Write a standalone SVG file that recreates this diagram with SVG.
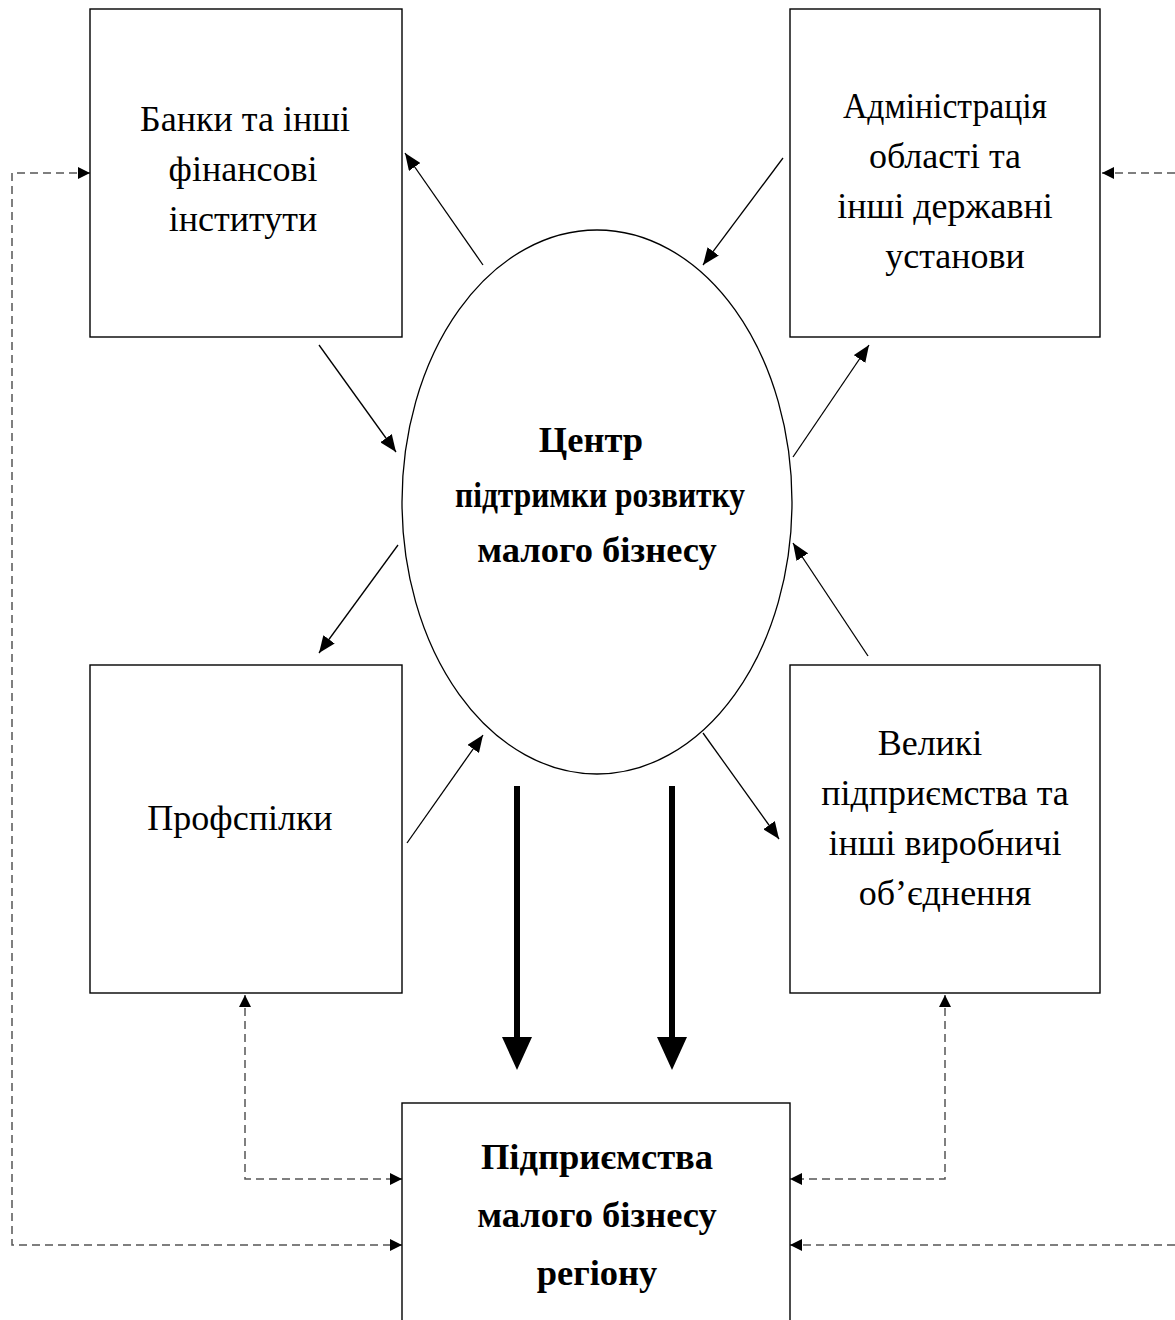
<svg xmlns="http://www.w3.org/2000/svg" width="1175" height="1320" viewBox="0 0 1175 1320">
<style>
.box{fill:#fff;stroke:#000;stroke-width:1.4}
.t{font-family:"Liberation Serif","Times New Roman",serif;font-size:36px;fill:#000;text-anchor:middle}
.b{font-weight:bold;font-size:36.5px}
.thin{stroke:#000;stroke-width:1.3;fill:none;marker-end:url(#ah)}
.thick{stroke:#000;stroke-width:6;fill:none;marker-end:url(#big)}
.dash{stroke:#555;stroke-width:1.5;fill:none;stroke-dasharray:8 5;marker-end:url(#dh)}
.dash2{marker-start:url(#dh)}
</style>
<defs>
<marker id="ah" markerUnits="userSpaceOnUse" markerWidth="18" markerHeight="14" refX="17" refY="7" orient="auto"><path d="M0,0 L17,7 L0,14 z" fill="#000"/></marker>
<marker id="big" markerUnits="userSpaceOnUse" markerWidth="34" markerHeight="30" refX="0" refY="15" orient="auto"><path d="M0,0 L33,15 L0,30 z" fill="#000"/></marker>
<marker id="dh" markerUnits="userSpaceOnUse" markerWidth="13" markerHeight="12" refX="12" refY="6" orient="auto-start-reverse"><path d="M0,0 L12,6 L0,12 z" fill="#000"/></marker>
</defs>
<rect width="1175" height="1320" fill="#fff"/>
<g id="connectors">
<line class="thin" x1="483" y1="265" x2="405" y2="153"/>
<line class="thin" x1="783" y1="158" x2="703" y2="265"/>
<line class="thin" x1="319" y1="345" x2="396" y2="452"/>
<line class="thin" x1="793" y1="457" x2="869" y2="345"/>
<line class="thin" x1="398" y1="545" x2="319" y2="653"/>
<line class="thin" x1="407" y1="843" x2="483" y2="735"/>
<line class="thin" x1="868" y1="656" x2="793" y2="543"/>
<line class="thin" x1="703" y1="733" x2="779" y2="839"/>
<line class="thick" x1="517" y1="786" x2="517" y2="1037"/>
<line class="thick" x1="672" y1="786" x2="672" y2="1037"/>
<path class="dash dash2" d="M90,173 H12 V1245 H402"/>
<path class="dash" d="M1175,173 H1102"/>
<path class="dash" d="M1175,1245 H790"/>
<path class="dash dash2" d="M245,995 V1179 H402"/>
<path class="dash dash2" d="M945,995 V1179 H790"/>
</g>
<g id="banks">
<rect class="box" x="90" y="9" width="312" height="328"/>
<text class="t" x="245" y="131">Банки та інші</text>
<text class="t" x="243" y="181">фінансові</text>
<text class="t" x="243" y="231">інститути</text>
</g>
<g id="admin">
<rect class="box" x="790" y="9" width="310" height="328"/>
<text class="t" x="945" y="118" textLength="204" lengthAdjust="spacingAndGlyphs">Адміністрація</text>
<text class="t" x="945" y="168">області та</text>
<text class="t" x="945" y="218">інші державні</text>
<text class="t" x="955" y="268">установи</text>
</g>
<g id="center">
<ellipse cx="597" cy="502" rx="195" ry="272" fill="#fff" stroke="#000" stroke-width="1.3"/>
<text class="t b" x="591" y="452">Центр</text>
<text class="t b" x="600" y="507" textLength="290" lengthAdjust="spacingAndGlyphs">підтримки розвитку</text>
<text class="t b" x="597" y="562">малого бізнесу</text>
</g>
<g id="unions">
<rect class="box" x="90" y="665" width="312" height="328"/>
<text class="t" x="240" y="830">Профспілки</text>
</g>
<g id="enterprises">
<rect class="box" x="790" y="665" width="310" height="328"/>
<text class="t" x="930" y="755">Великі</text>
<text class="t" x="945" y="805">підприємства та</text>
<text class="t" x="945" y="855">інші виробничі</text>
<text class="t" x="945" y="905">об’єднення</text>
</g>
<g id="small-business">
<rect class="box" x="402" y="1103" width="388" height="240"/>
<text class="t b" x="597" y="1169">Підприємства</text>
<text class="t b" x="597" y="1227">малого бізнесу</text>
<text class="t b" x="597" y="1285">регіону</text>
</g>
</svg>
